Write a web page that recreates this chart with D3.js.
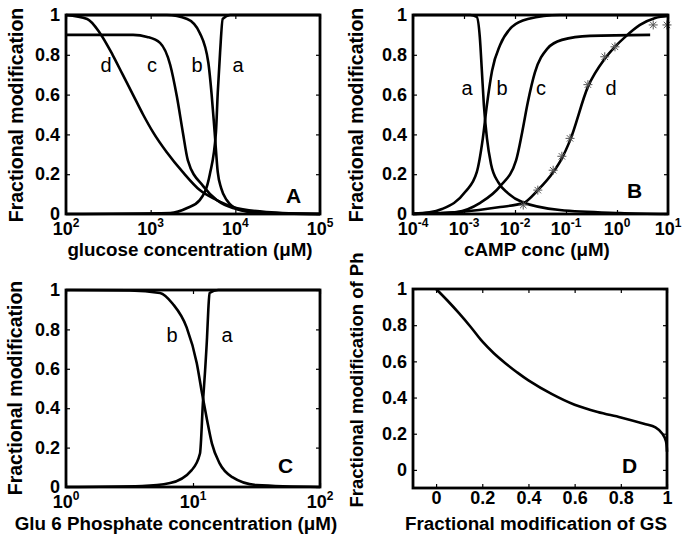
<!DOCTYPE html>
<html>
<head>
<meta charset="utf-8">
<script src="https://cdn.jsdelivr.net/npm/d3@7"></script>
<style>
  body { margin: 0; background: #fff; }
  svg { font-family: "Liberation Sans", Arial, sans-serif; }
</style>
</head>
<body>
<svg id="chart" width="685" height="551"></svg>
<script>
// ---- data ----
// A: glucose concentration (uM)
const aA_x = [100, 1700, 2700, 3800, 5000, 5900, 6200, 6600, 7100, 8700, 100000];
const aA_y = [0, 0.005, 0.03, 0.07, 0.2, 0.41, 0.61, 0.81, 0.98, 1, 1];
const bA_x = [100, 1550, 2700, 3800, 4800, 5250, 5700, 6200, 6800, 7900, 11200, 19500, 100000];
const bA_y = [1, 1, 0.98, 0.91, 0.76, 0.6, 0.41, 0.21, 0.13, 0.07, 0.02, 0.005, 0];
const cA_x = [100, 620, 910, 1290, 1700, 2040, 2400, 2750, 4170, 6030, 9330, 23400, 100000];
const cA_y = [0.9, 0.9, 0.89, 0.86, 0.75, 0.59, 0.41, 0.27, 0.14, 0.07, 0.03, 0.005, 0];
const dA_x = [100, 178, 251, 355, 468, 617, 813, 1070, 1550, 2400, 3800, 6030, 9330, 23400, 100000];
const dA_y = [1, 0.98, 0.91, 0.8, 0.7, 0.6, 0.5, 0.41, 0.31, 0.21, 0.12, 0.07, 0.035, 0.01, 0];

// B: cAMP conc (uM)
const aB_x = [0.0001, 0.00132, 0.00178, 0.00204, 0.00224, 0.00245, 0.00282, 0.00339, 0.00468, 0.00724, 0.0138, 0.0759, 1.15, 10];
const aB_y = [1, 1, 0.99, 0.89, 0.72, 0.55, 0.38, 0.25, 0.16, 0.105, 0.06, 0.02, 0.005, 0];
const bB_x = [0.0001, 0.00021, 0.00037, 0.00105, 0.00178, 0.00234, 0.00282, 0.00355, 0.00513, 0.0087, 0.0178, 0.076, 10];
const bB_y = [0.002, 0.008, 0.025, 0.11, 0.21, 0.38, 0.55, 0.72, 0.85, 0.94, 0.98, 1, 1];
const cB_x = [0.0001, 0.00034, 0.00072, 0.00204, 0.00513, 0.0105, 0.0138, 0.0178, 0.0245, 0.0427, 0.083, 0.295, 4.47];
const cB_y = [0, 0.005, 0.01, 0.055, 0.14, 0.27, 0.41, 0.56, 0.71, 0.83, 0.875, 0.895, 0.9];
const dB_x = [0.0001, 0.00083, 0.00513, 0.0145, 0.028, 0.056, 0.083, 0.12, 0.27, 0.575, 0.91, 1.45, 2.82, 5.62, 10];
const dB_y = [0, 0.01, 0.035, 0.055, 0.12, 0.21, 0.28, 0.37, 0.64, 0.78, 0.84, 0.89, 0.95, 0.985, 0.995];
const starB_x = [0.0145, 0.028, 0.056, 0.083, 0.12, 0.269, 0.575, 0.912, 5.13, 9.55];
const starB_y = [0.045, 0.12, 0.22, 0.29, 0.38, 0.65, 0.79, 0.84, 0.95, 0.95];

// C: Glu 6 Phosphate concentration (uM)
const aC_x = [1, 3.98, 6.6, 9.77, 11.35, 12.0, 12.45, 12.9, 13.2, 13.5, 15.8, 100];
const aC_y = [0, 0.005, 0.02, 0.086, 0.17, 0.44, 0.59, 0.76, 0.9, 0.985, 1, 1];
const bC_x = [1, 3.16, 5.5, 6.92, 8.91, 10.7, 11.75, 12.9, 14.1, 16.2, 20.4, 31.6, 100];
const bC_y = [1, 0.998, 0.985, 0.93, 0.81, 0.63, 0.48, 0.34, 0.22, 0.12, 0.05, 0.01, 0];

// D: Ph vs GS
const gsD = [0, 0.05, 0.1, 0.15, 0.2, 0.25, 0.3, 0.35, 0.4, 0.5, 0.6, 0.7, 0.8, 0.9, 0.95, 0.98, 0.995, 1.0];
const phD = [1.0, 0.935, 0.865, 0.79, 0.71, 0.645, 0.59, 0.54, 0.495, 0.42, 0.36, 0.32, 0.29, 0.255, 0.235, 0.2, 0.16, 0.1];

// tick labels
const expA = [2, 3, 4, 5];
const expB = [-4, -3, -2, -1, 0, 1];
const expC = [0, 1, 2];
const fracTicks = [0, 0.2, 0.4, 0.6, 0.8, 1];
const fracLabels = ['0', '0.2', '0.4', '0.6', '0.8', '1'];

const svg = d3.select('#chart');
const zip = (xs, ys) => xs.map((v, i) => [v, ys[i]]);

function panel(p) {
  const x = p.x.range([p.left, p.right]);
  const y = d3.scaleLinear().domain(p.yDomain).range([p.bottom, p.top]);
  const g = svg.append('g');

  const line = d3.line()
    .x(d => x(d[0]))
    .y(d => y(d[1]))
    .curve(p.curve || d3.curveMonotoneX);

  p.series.forEach(s => {
    g.append('path')
      .attr('d', line(s))
      .attr('fill', 'none')
      .attr('stroke', '#000')
      .attr('stroke-width', 2.6)
      .attr('stroke-linejoin', 'round');
  });

  // inside ticks on all four sides
  const tickStyle = sel => {
    sel.select('.domain').remove();
    sel.selectAll('line').attr('stroke', '#000').attr('stroke-width', 1.2);
  };
  g.append('g').attr('transform', `translate(0,${p.bottom})`)
    .call(d3.axisBottom(x).tickValues(p.xTicks).tickSize(-4).tickFormat(''))
    .call(tickStyle).selectAll('text').remove();
  g.append('g').attr('transform', `translate(0,${p.top})`)
    .call(d3.axisTop(x).tickValues(p.xTicks).tickSize(-4).tickFormat(''))
    .call(tickStyle).selectAll('text').remove();
  g.append('g').attr('transform', `translate(${p.right},0)`)
    .call(d3.axisRight(y).tickValues(fracTicks).tickSize(-4).tickFormat(''))
    .call(tickStyle).selectAll('text').remove();
  g.append('g').attr('transform', `translate(${p.left},0)`)
    .call(d3.axisLeft(y).tickValues(fracTicks).tickSize(-4).tickPadding(6)
      .tickFormat((d, i) => fracLabels[i]))
    .call(tickStyle)
    .attr('font-family', null)
    .selectAll('text')
    .attr('font-size', 18)
    .attr('font-weight', 'bold')
    .attr('fill', '#000');

  // x tick labels
  if (p.exps) {
    const t = g.selectAll('.xl').data(p.exps).enter().append('text')
      .attr('x', d => x(Math.pow(10, d)))
      .attr('y', p.bottom + 21)
      .attr('text-anchor', 'middle')
      .attr('font-size', 18)
      .attr('font-weight', 'bold');
    t.append('tspan').text('10');
    t.append('tspan').attr('dy', -8).attr('font-size', 12).text(d => d);
  } else {
    g.append('g').attr('transform', `translate(0,${p.bottom})`)
      .call(d3.axisBottom(x).tickValues(fracTicks).tickSize(0).tickPadding(3)
        .tickFormat((d, i) => fracLabels[i]))
      .call(s => s.select('.domain').remove())
      .attr('font-family', null)
      .selectAll('text')
      .attr('font-size', 18)
      .attr('font-weight', 'bold')
      .attr('fill', '#000');
  }

  if (p.stars) {
    const r = 4.5, k = 3.2;
    g.selectAll('.star').data(p.stars).enter().append('path')
      .attr('transform', d => `translate(${x(d[0])},${y(d[1])})`)
      .attr('d', `M${-r},0H${r}M0,${-r}V${r}M${-k},${-k}L${k},${k}M${-k},${k}L${k},${-k}`)
      .attr('stroke', '#555')
      .attr('stroke-width', 1)
      .attr('fill', 'none');
  }

  // box
  g.append('rect')
    .attr('x', p.left).attr('y', p.top)
    .attr('width', p.right - p.left).attr('height', p.bottom - p.top)
    .attr('fill', 'none').attr('stroke', '#000').attr('stroke-width', 2.8);

  // curve labels
  g.selectAll('.cl').data(p.labels).enter().append('text')
    .attr('x', d => d[1]).attr('y', d => d[2])
    .attr('text-anchor', 'middle')
    .attr('font-size', 20)
    .text(d => d[0]);

  g.append('text')
    .attr('x', p.letter[1]).attr('y', p.letter[2])
    .attr('font-size', 21).attr('font-weight', 'bold')
    .text(p.letter[0]);

  g.append('text')
    .attr('x', p.xTitle[1]).attr('y', p.xTitle[2])
    .attr('text-anchor', 'middle')
    .attr('font-size', 18.8).attr('font-weight', 'bold')
    .text(p.xTitle[0]);

  g.append('text')
    .attr('transform', `translate(${p.yTitle[1]},${p.yTitle[2]}) rotate(-90)`)
    .attr('text-anchor', 'middle')
    .attr('font-size', p.yTitle[3] || 19.5).attr('font-weight', 'bold')
    .text(p.yTitle[0]);
}

panel({
  x: d3.scaleLog().domain([100, 100000]),
  yDomain: [0, 1],
  left: 66, right: 320, top: 15, bottom: 214,
  xTicks: expA.map(e => Math.pow(10, e)),
  exps: expA,
  series: [zip(aA_x, aA_y), zip(bA_x, bA_y), zip(cA_x, cA_y), zip(dA_x, dA_y)],
  labels: [['d', 106, 72], ['c', 152, 72], ['b', 197, 72], ['a', 238, 72]],
  letter: ['A', 286, 203],
  xTitle: ['glucose concentration (\u03bcM)', 190, 256],
  yTitle: ['Fractional modification', 23, 115]
});

panel({
  x: d3.scaleLog().domain([0.0001, 10]),
  yDomain: [0, 1],
  left: 413, right: 668, top: 15, bottom: 214,
  xTicks: expB.map(e => Math.pow(10, e)),
  exps: expB,
  series: [zip(aB_x, aB_y), zip(bB_x, bB_y), zip(cB_x, cB_y), zip(dB_x, dB_y)],
  stars: zip(starB_x, starB_y),
  labels: [['a', 467, 95], ['b', 502, 95], ['c', 541, 95], ['d', 611, 95]],
  letter: ['B', 627, 198],
  xTitle: ['cAMP conc (\u03bcM)', 537, 256],
  yTitle: ['Fractional modification', 363, 115]
});

panel({
  x: d3.scaleLog().domain([1, 100]),
  yDomain: [0, 1],
  left: 66, right: 320, top: 290, bottom: 487,
  xTicks: expC.map(e => Math.pow(10, e)),
  exps: expC,
  series: [zip(aC_x, aC_y), zip(bC_x, bC_y)],
  labels: [['b', 172, 342], ['a', 227, 342]],
  letter: ['C', 278, 473],
  xTitle: ['Glu 6 Phosphate concentration (\u03bcM)', 176, 530],
  yTitle: ['Fractional modification', 22, 388]
});

panel({
  x: d3.scaleLinear().domain([-0.1, 1]),
  yDomain: [-0.1, 1],
  left: 413, right: 667, top: 289, bottom: 488,
  xTicks: fracTicks,
  series: [zip(gsD, phD)],
  curve: d3.curveCatmullRom.alpha(0.5),
  labels: [],
  letter: ['D', 622, 473],
  xTitle: ['Fractional modification of GS', 536, 530],
  yTitle: ['Fractional modification of Ph', 363, 380, 18.5]
});
</script>
</body>
</html>
